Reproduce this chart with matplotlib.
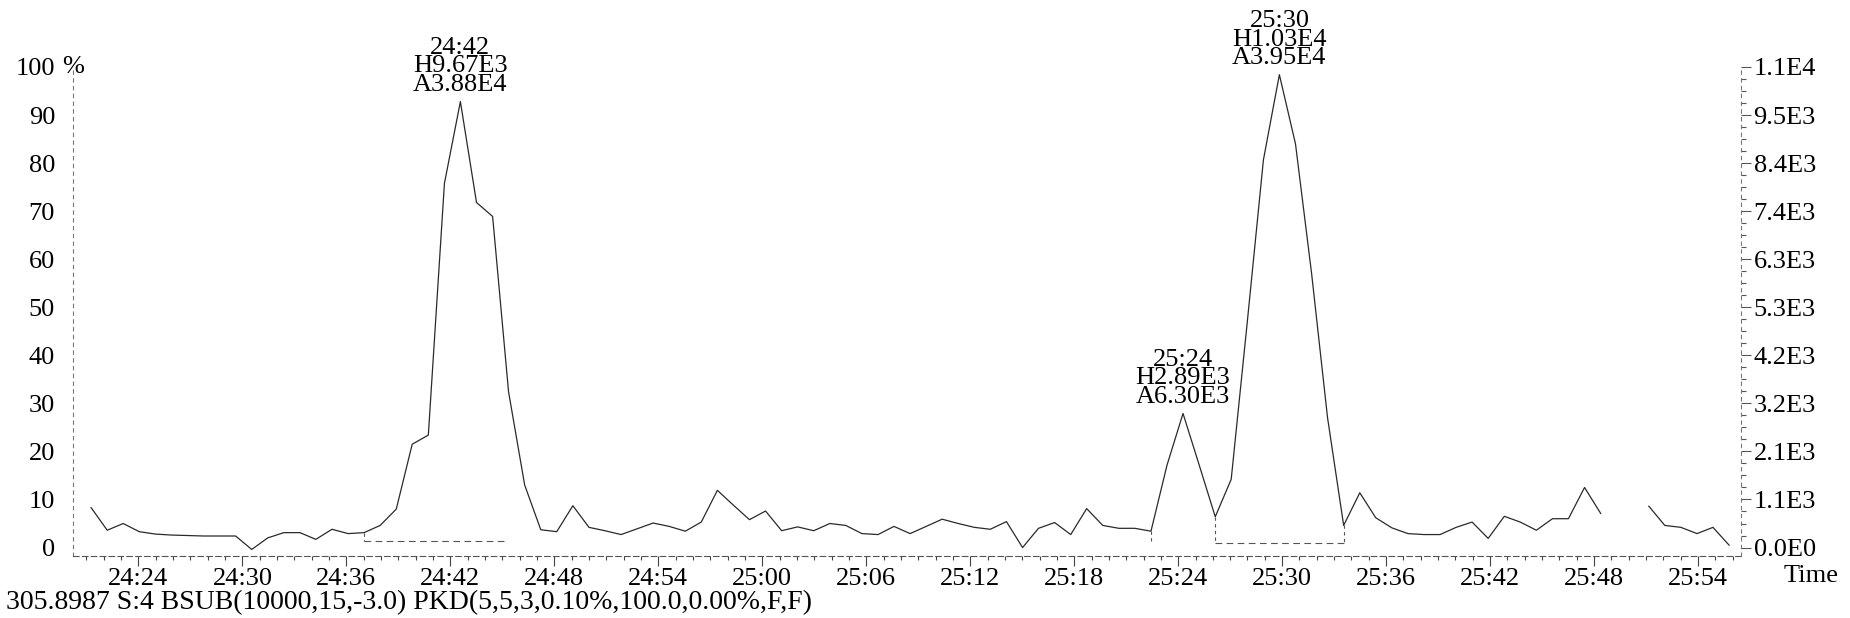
import numpy as np
import matplotlib.pyplot as plt
from matplotlib.ticker import MultipleLocator, FuncFormatter, AutoMinorLocator
import matplotlib.transforms as mtransforms

plt.rcParams['font.family'] = ['Liberation Serif', 'DejaVu Serif']
plt.rcParams['font.size'] = 19

# scan times, seconds after 24:00
scan_sec = [21.27, 22.20, 23.12, 24.05, 24.98, 25.90, 26.83, 27.76, 28.68, 29.61,
            30.54, 31.46, 32.39, 33.32, 34.24, 35.17, 36.10, 37.02, 37.95, 38.88,
            39.80, 40.73, 41.66, 42.58, 43.51, 44.44, 45.36, 46.29, 47.22, 48.14,
            49.07, 50.00, 50.92, 51.85, 52.78, 53.70, 54.63, 55.56, 56.48, 57.41,
            58.34, 59.26, 60.19, 61.12, 62.04, 62.97, 63.90, 64.82, 65.75, 66.68,
            67.60, 68.53, 69.46, 70.38, 71.31, 72.24, 73.16, 74.09, 75.02, 75.94,
            76.87, 77.80, 78.72, 79.65, 80.58, 81.50, 82.43, 83.36, 84.28, 85.21,
            86.14, 87.06, 87.99, 88.92, 89.84, 90.77, 91.70, 92.62, 93.55, 94.48,
            95.40, 96.33, 97.26, 98.18, 99.11, 100.04, 100.96, 101.89, 102.82, 103.74,
            104.67, 105.60, 106.52, 107.45, 108.38, 109.30, 110.23, 111.16, 112.08, 113.01,
            113.94, 114.86, 115.79]

# relative intensity, %
intensity = [8.3, 3.6, 5.0, 3.3, 2.8, 2.6, 2.5, 2.4, 2.4, 2.4,
             -0.4, 2.0, 3.1, 3.1, 1.7, 3.8, 2.9, 3.1, 4.6, 8.0,
             21.5, 23.4, 75.8, 92.8, 71.8, 68.9, 32.4, 13.0, 3.7, 3.3,
             8.7, 4.2, 3.5, 2.7, 3.9, 5.1, 4.4, 3.4, 5.3, 11.9,
             8.8, 5.8, 7.6, 3.5, 4.3, 3.5, 5.0, 4.6, 2.9, 2.7,
             4.4, 2.9, 4.4, 5.9, 5.0, 4.2, 3.8, 5.4, 0.0, 4.0,
             5.2, 2.7, 8.1, 4.6, 4.0, 4.0, 3.4, 17.2, 27.9, 17.2,
             6.4, 14.2, 47.0, 80.7, 98.4, 84.0, 57.0, 27.0, 4.6, 11.4,
             6.2, 4.1, 2.9, 2.7, 2.7, 4.2, 5.3, 1.9, 6.5, 5.3,
             3.6, 6.0, 6.0, 12.5, 7.1, np.nan, np.nan, 8.6, 4.6, 4.2,
             2.9, 4.2, 0.5]

peak_scan = [23, 68, 74]
peak_text = ["24:42\nH9.67E3\nA3.88E4",
             "25:24\nH2.89E3\nA6.30E3",
             "25:30\nH1.03E4\nA3.95E4"]

# integration baselines (seconds after 24:00, level %)
base_start = [37.02, 86.14]
base_end = [45.20, 93.55]
base_level = [1.3, 1.0]
drop_sec = [37.02, 82.43, 86.14, 93.55]
drop_top = [3.1, 3.4, 6.4, 4.6]
drop_bottom = [1.3, 1.2, 1.0, 1.0]

left_ticks = [0, 10, 20, 30, 40, 50, 60, 70, 80, 90, 100]
left_labels = ["0", "10", "20", "30", "40", "50", "60", "70", "80", "90", "100"]
right_labels = ["0.0E0", "1.1E3", "2.1E3", "3.2E3", "4.2E3", "5.3E3",
                "6.3E3", "7.4E3", "8.4E3", "9.5E3", "1.1E4"]

t = 1440 + np.array(scan_sec)
y = np.array(intensity)

fig = plt.figure(figsize=(18.5, 6.18), dpi=100)
ax = fig.add_axes([0.0395, 0.1008, 0.9016, 0.7908])
ax.plot(t, y, color='#2a2a2a', lw=0.9)

for s, e, lv in zip(base_start, base_end, base_level):
    ax.plot([1440 + s, 1440 + e], [lv, lv], color='#555555', lw=0.8, ls=(0, (6, 4)))
for s, top, bot in zip(drop_sec, drop_top, drop_bottom):
    ax.plot([1440 + s, 1440 + s], [top, bot], color='#555555', lw=0.8, ls=(0, (3, 3)))

for i, txt in zip(peak_scan, peak_text):
    ax.annotate(txt, (t[i], y[i]), xytext=(0, 4), textcoords='offset points',
                ha='center', va='bottom', multialignment='center',
                linespacing=0.8, annotation_clip=False)

ax.set_xlim(1460.23, 1556.48)
ax.set_ylim(-1.7, 100)

ax.xaxis.set_major_locator(MultipleLocator(6))
ax.xaxis.set_minor_locator(MultipleLocator(1))
ax.xaxis.set_major_formatter(FuncFormatter(lambda v, p: f"{int(round(v)) // 60}:{int(round(v)) % 60:02d}"))
ax.tick_params(axis='x', which='major', direction='out', length=7, width=0.8, color='#444444', pad=2)
ax.tick_params(axis='x', which='minor', direction='out', length=3, width=0.8, color='#444444')

ax.set_yticks(left_ticks)
ax.set_yticklabels(left_labels)
ax.tick_params(axis='y', length=0, pad=13)
trans = mtransforms.blended_transform_factory(ax.transAxes, ax.transData)
ax.text(0.0, 100, "%", transform=trans, ha='center', va='center')

for side in ['top', 'right']:
    ax.spines[side].set_visible(False)
ax.spines['left'].set_linestyle((0, (3, 4)))
ax.spines['left'].set_color('#777777')
ax.spines['left'].set_linewidth(0.8)
ax.spines['bottom'].set_linestyle((0, (5, 3)))
ax.spines['bottom'].set_color('#555555')
ax.spines['bottom'].set_linewidth(0.8)

ax2 = ax.twinx()
ax2.set_ylim(ax.get_ylim())
ax2.set_yticks(left_ticks)
ax2.set_yticklabels(right_labels)
ax2.yaxis.set_minor_locator(AutoMinorLocator(4))
ax2.tick_params(axis='y', which='major', direction='out', length=7, width=0.8, color='#555555', pad=2)
ax2.tick_params(axis='y', which='minor', direction='out', length=3.5, width=0.8, color='#555555')
for side in ['top', 'left', 'bottom']:
    ax2.spines[side].set_visible(False)
ax2.spines['right'].set_linestyle((0, (3, 4)))
ax2.spines['right'].set_color('#777777')
ax2.spines['right'].set_linewidth(0.8)

fig.text(1811 / 1850, 1 - 576 / 618, "Time", ha='center', va='center')
fig.text(6 / 1850, 1 - 603 / 618,
         "305.8987 S:4 BSUB(10000,15,-3.0) PKD(5,5,3,0.10%,100.0,0.00%,F,F)",
         ha='left', va='center', fontsize=20)

fig.savefig("out.png", dpi=100, facecolor='white')
